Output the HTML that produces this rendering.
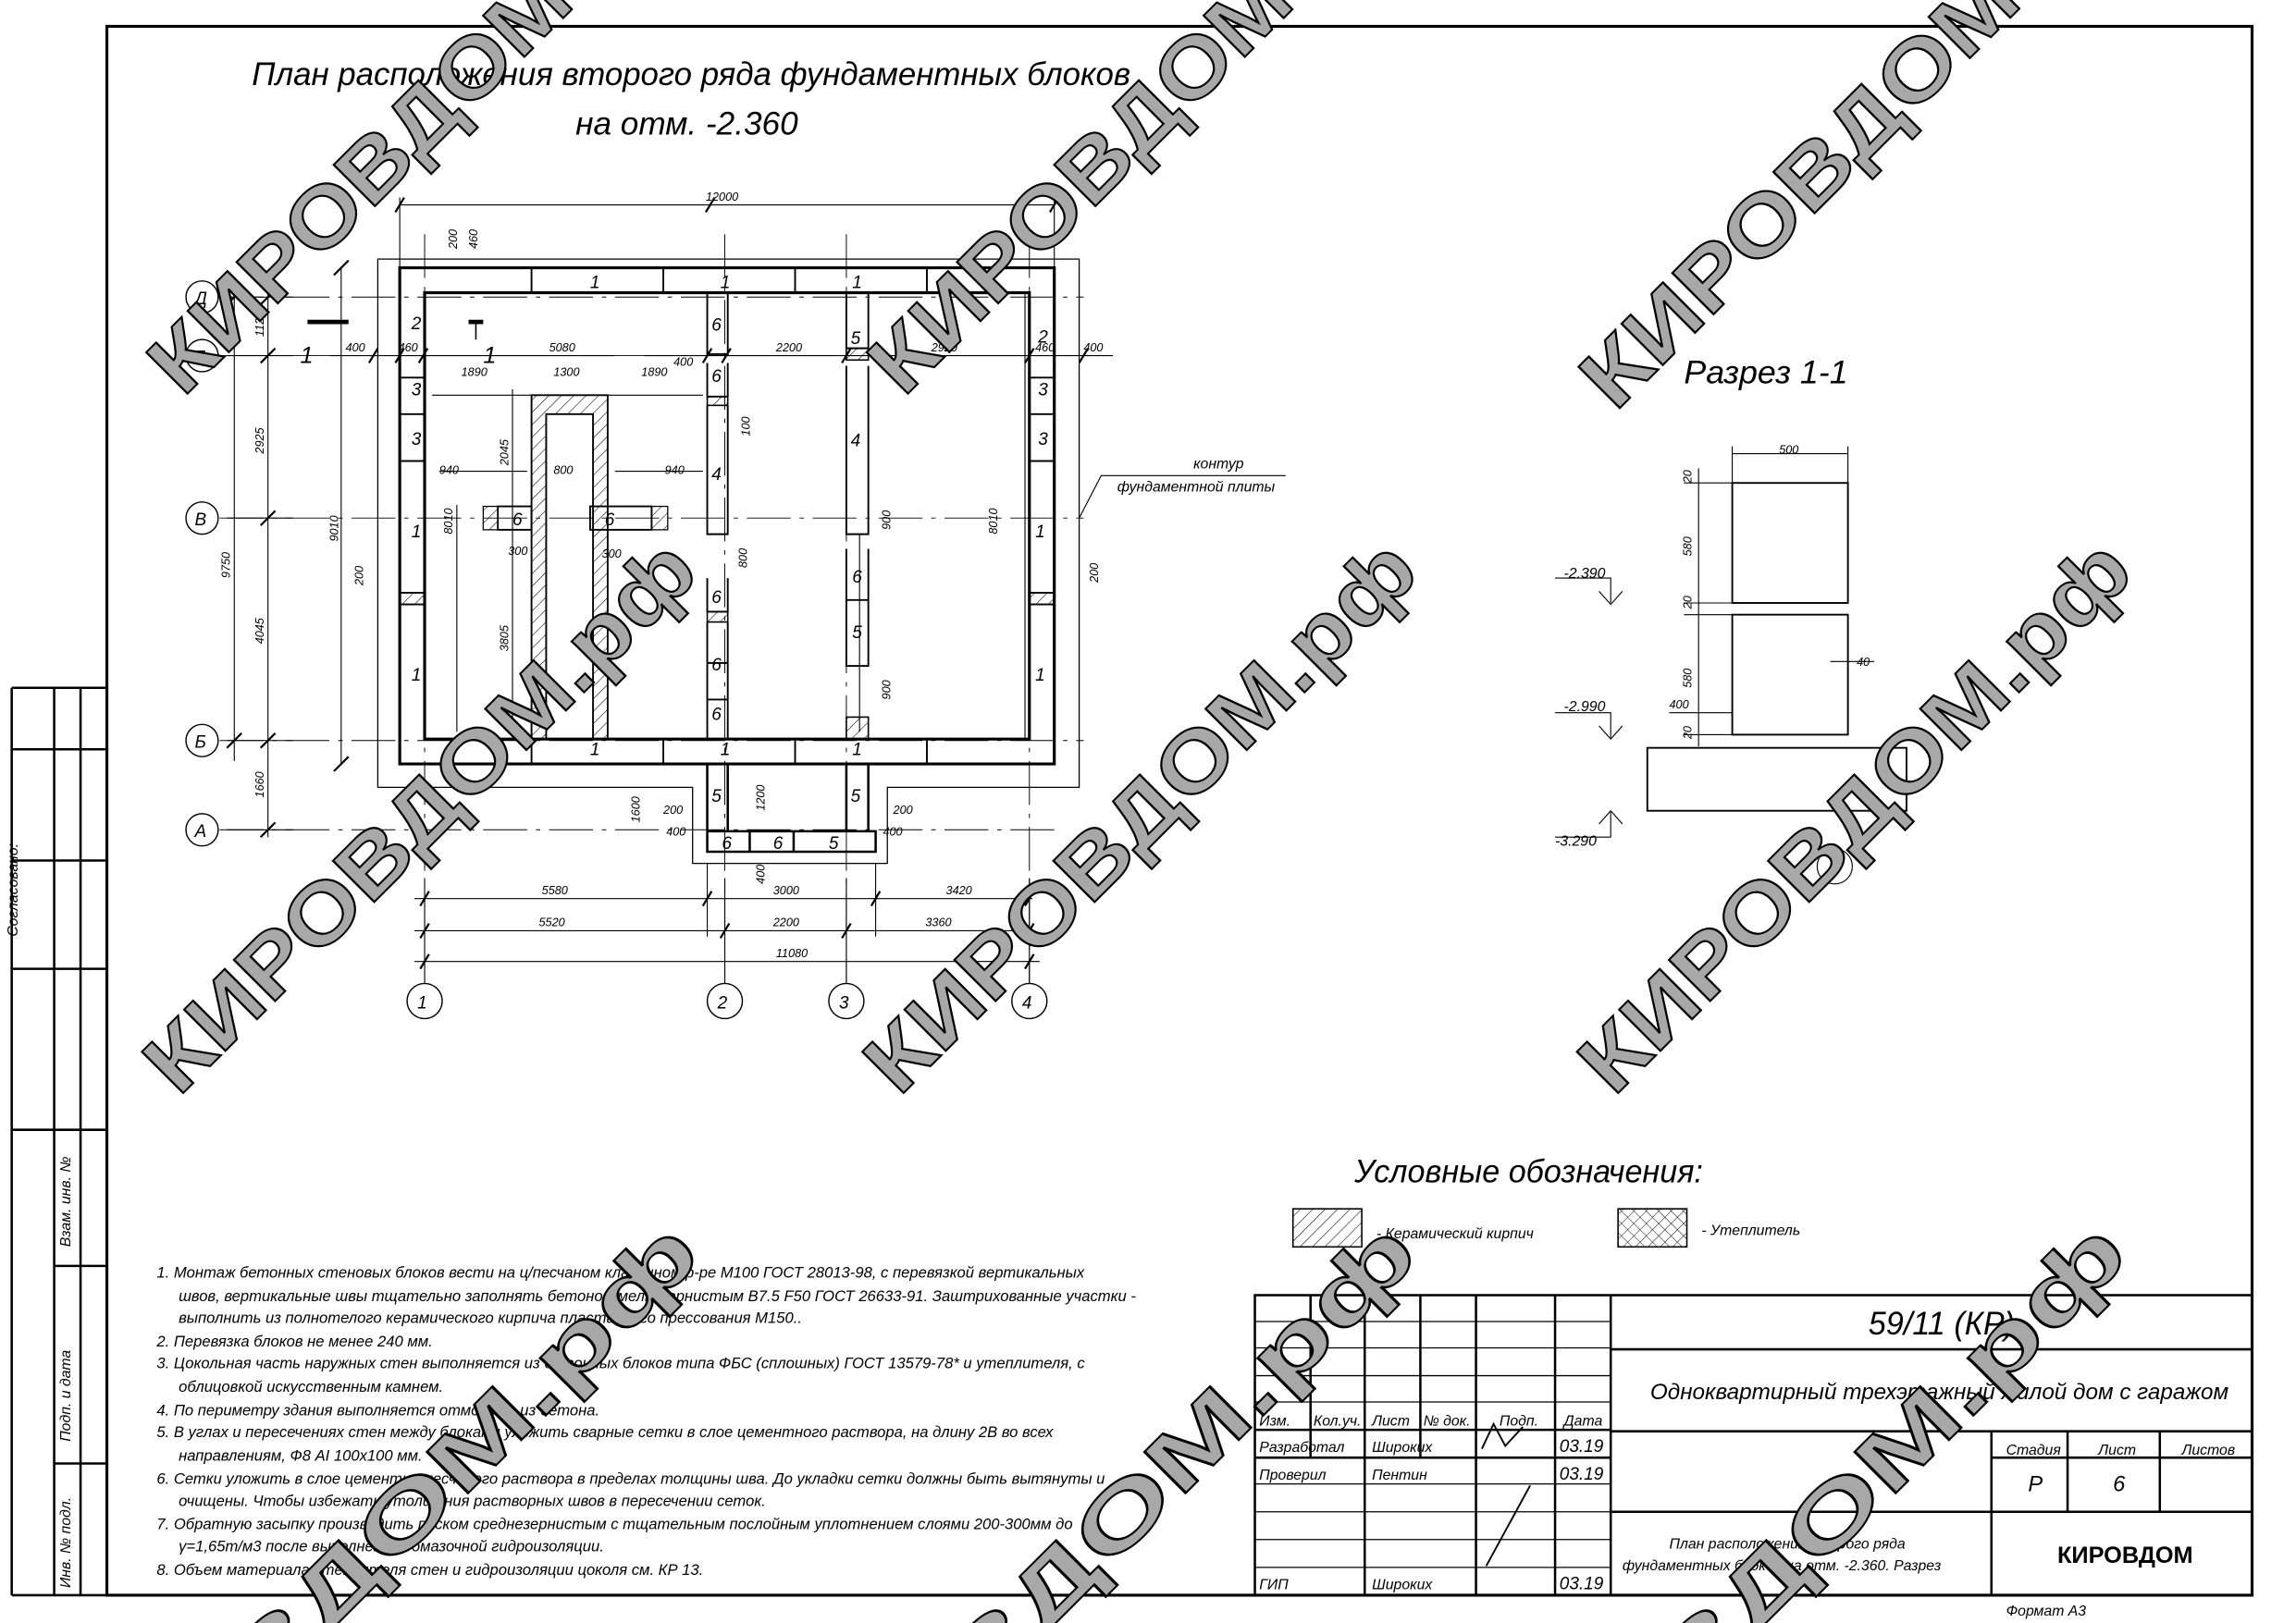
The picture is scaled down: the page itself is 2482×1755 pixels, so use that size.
<!DOCTYPE html>
<html><head><meta charset="utf-8"><style>
html,body{margin:0;padding:0;background:#fff;overflow:hidden;width:2482px;height:1755px}
svg{display:block}
text{font-family:"Liberation Sans",sans-serif;font-style:italic;fill:#000}
.wm{font-family:"Liberation Sans",sans-serif;font-style:normal;font-weight:bold;fill:#a8a8a8;stroke:#000;stroke-width:1.3}
</style></head><body>
<svg width="2482" height="1755" viewBox="0 0 1568 1109" preserveAspectRatio="none" xmlns="http://www.w3.org/2000/svg">
<defs>
<pattern id="h" width="6" height="6" patternUnits="userSpaceOnUse" patternTransform="rotate(45)"><line x1="0" y1="0" x2="0" y2="6" stroke="#000" stroke-width="0.7"/></pattern>
<pattern id="x" width="6" height="6" patternUnits="userSpaceOnUse" patternTransform="rotate(45)"><line x1="0" y1="0" x2="0" y2="6" stroke="#000" stroke-width="0.6"/><line x1="0" y1="0" x2="6" y2="0" stroke="#000" stroke-width="0.6"/></pattern>
</defs>
<g fill="none" stroke="#000">
<rect x="73" y="18" width="1465" height="1072" stroke-width="2"/>
<path d="M8 470H73M8 1090H73M8 470V1090M37 470V1090M55 470V1090M8 512H73M8 588H73M8 662H73M8 772H73M37 865H73M37 1000H73" stroke-width="1.6"/>
<path d="M258 177H737V538H606V590H473V538H258Z" stroke-width="0.8"/>
<path d="M273 183H720V522H273Z M290 200H703V505H290Z" stroke-width="2"/>
<path d="M363 183V200M453 183V200M543 183V200M633 183V200M363 505V522M453 505V522M543 505V522M633 505V522" stroke-width="1.2"/>
<path d="M273 258H290M273 283H290M273 315H290M273 405H290M273 413H290M703 258H720M703 283H720M703 315H720M703 405H720M703 413H720" stroke-width="1.2"/>
<rect x="273" y="405" width="17" height="8" fill="url(#h)" stroke-width="1"/>
<rect x="703" y="405" width="17" height="8" fill="url(#h)" stroke-width="1"/>
<path d="M483 200V242H497V200M483 248V271H497V248M483 277V365H497V277M483 395V418H497V395M483 425V505H497V425M483 453H497M483 478H497" stroke-width="1.2"/>
<rect x="483" y="418" width="14" height="7" fill="url(#h)" stroke-width="1"/>
<rect x="483" y="271" width="14" height="6" fill="url(#h)" stroke-width="1"/>
<path d="M578 200V238H593V200M578 250V365H593V250M578 375V410H593V375M578 410V455H593V410" stroke-width="1.2"/>
<rect x="578" y="490" width="15" height="15" fill="url(#h)" stroke-width="1"/>
<rect x="578" y="238" width="15" height="8" fill="url(#h)" stroke-width="1"/>
<path d="M363 505V270H415V505H405V283H373V505Z" fill="url(#h)" stroke-width="1.2"/>
<rect x="340" y="346" width="23" height="16" stroke-width="1.2"/>
<rect x="403" y="346" width="42" height="16" stroke-width="1.2"/>
<rect x="330" y="346" width="10" height="16" fill="url(#h)" stroke-width="0.8"/>
<rect x="445" y="346" width="11" height="16" fill="url(#h)" stroke-width="0.8"/>
<path d="M483 522V568M497 522V568M578 522V568M593 522V568M483 568H598V582H483Z M512 568V582M542 568V582" stroke-width="1.6"/>
<g stroke-width="0.6" stroke-dasharray="30 6 3 6">
<path d="M150 203H740M150 243H740M150 354H740M150 506H740M150 567H720M290 160V672M495 160V672M578 160V672M703 160V672"/>
</g>
<g stroke-width="0.9">
<circle cx="138" cy="203" r="11"/><circle cx="138" cy="243" r="11"/><circle cx="138" cy="354" r="11"/><circle cx="138" cy="506" r="11"/><circle cx="138" cy="567" r="11"/>
<circle cx="290" cy="684" r="12"/><circle cx="495" cy="684" r="12"/><circle cx="578" cy="684" r="12"/><circle cx="703" cy="684" r="12"/>
</g>
<g stroke-width="0.7">
<path d="M273 140H720M273 135V183M720 135V183"/>
<path d="M283 614H705M283 636H705M283 657H710M290 600V672M483 590V640M598 590V640M495 600V672M578 600V672M703 600V672"/>
<path d="M183 198V572M160 198V520M233 183V522M155 203H200M155 243H200M155 354H200M155 506H200M155 567H200"/>
<path d="M225 243H420M440 243H760M295 270H480M300 322H360M420 322H480M350 266V505"/>
<path d="M312 345V500M700 200V505M587 365V500"/>
</g>
<g stroke-width="1.4">
<path d="M270 145L276 135M482 145L488 135M717 145L723 135M287 619L293 609M480 619L486 609M595 619L601 609M700 619L706 609M287 641L293 631M492 641L498 631M575 641L581 631M700 641L706 631M287 662L293 652M700 662L706 652"/>
<path d="M178 208L188 198M178 248L188 238M178 359L188 349M178 511L188 501M178 572L188 562M155 208L165 198M155 511L165 501M228 188L238 178M228 527L238 517"/>
<path d="M252 248L258 238M270 248L276 238M286 248L292 238M480 248L486 238M493 248L499 238M575 248L581 238M700 248L706 238M737 248L743 238"/>
</g>
<path d="M210 220H238M320 220H330" stroke-width="3"/>
<path d="M325 220V232" stroke-width="1"/>
<g stroke-width="1.2">
<rect x="1183" y="330" width="79" height="82"/><rect x="1183" y="420" width="79" height="82"/><rect x="1125" y="511" width="177" height="43"/>
</g>
<g stroke-width="0.7">
<path d="M1183 310H1262M1183 305V330M1262 305V330M1160 320V510M1150 330H1183M1150 412H1183M1150 420H1183M1150 502H1183M1140 487H1183M1150 511H1183M1250 452H1280"/>
<path d="M1062 395H1100V412M1062 487H1100V504M1062 572H1100V555M1092 404L1100 413L1108 404M1092 496L1100 505L1108 496M1092 563L1100 554L1108 563"/>
<circle cx="1253" cy="592" r="12"/>
</g>
<rect x="883" y="826" width="47" height="26" fill="url(#h)" stroke-width="1"/>
<rect x="1105" y="826" width="47" height="26" fill="url(#x)" stroke-width="1"/>
<path d="M737 354L752 325H878" stroke-width="0.7"/>
<g stroke-width="1.6">
<rect x="857" y="885" width="681" height="205"/>
<path d="M1100 885V1090M1100 922H1538M1100 978H1538M1360 978V1090M1100 1033H1538M1360 996H1538M1412 978V1033M1475 978V1033"/>
<path d="M857 977H1100M857 996H1100M895 885V996M932 885V996M970 885V996M1008 885V1090M1062 885V1090M932 996V1090"/>
</g>
<g stroke-width="0.8">
<path d="M857 903H1100M857 921H1100M857 940H1100M857 958H1100M857 1014H1100M857 1033H1100M857 1052H1100M857 1071H1100"/>
<path d="M1015 1070L1045 1015M1012 990L1020 973L1028 988L1040 975" stroke-width="1.2"/>
</g>
</g>
<g font-size="22">
<text x="172" y="58" textLength="600" lengthAdjust="spacingAndGlyphs">План расположения второго ряда фундаментных блоков</text>
<text x="393" y="92" textLength="152" lengthAdjust="spacingAndGlyphs">на отм. -2.360</text>
<text x="1150" y="262" textLength="112" lengthAdjust="spacingAndGlyphs">Разрез 1-1</text>
<text x="925" y="808" textLength="238" lengthAdjust="spacingAndGlyphs">Условные обозначения:</text>
<text x="1276" y="912" textLength="100" lengthAdjust="spacingAndGlyphs">59/11 (КР)</text>
</g>
<g font-size="15">
<text x="1127" y="956" textLength="395" lengthAdjust="spacingAndGlyphs">Одноквартирный трехэтажный жилой дом с гаражом</text>
<text x="1385" y="1019">Р</text><text x="1443" y="1019">6</text>
</g>
<text x="1405" y="1068" font-size="16" style="font-style:normal;font-weight:bold">КИРОВДОМ</text>
<g font-size="10">
<text x="1370" y="994">Стадия</text><text x="1433" y="994">Лист</text><text x="1490" y="994">Листов</text>
<text x="1140" y="1058">План расположения второго ряда</text>
<text x="1108" y="1073">фундаментных блоков на отм. -2.360. Разрез</text>
<text x="1370" y="1104">Формат А3</text>
<text x="860" y="974">Изм.</text><text x="897" y="974">Кол.уч.</text><text x="937" y="974">Лист</text><text x="972" y="974">№ док.</text><text x="1024" y="974">Подп.</text><text x="1068" y="974">Дата</text>
<text x="860" y="992">Разработал</text><text x="937" y="992">Широких</text><text x="1065" y="992" font-size="12">03.19</text>
<text x="860" y="1011">Проверил</text><text x="937" y="1011">Пентин</text><text x="1065" y="1011" font-size="12">03.19</text>
<text x="860" y="1086">ГИП</text><text x="937" y="1086">Широких</text><text x="1065" y="1086" font-size="12">03.19</text>
<text x="940" y="846">- Керамический кирпич</text><text x="1162" y="844">- Утеплитель</text>
<text x="815" y="320">контур</text><text x="763" y="336">фундаментной плиты</text>
<text x="1068" y="395">-2.390</text><text x="1068" y="486">-2.990</text><text x="1062" y="578">-3.290</text>
<text x="12" y="640" transform="rotate(-90 12 640)">Согласовано:</text>
<text x="48" y="852" transform="rotate(-90 48 852)">Взам. инв. №</text>
<text x="48" y="985" transform="rotate(-90 48 985)">Подп. и дата</text>
<text x="48" y="1085" transform="rotate(-90 48 1085)">Инв. № подл.</text>
</g>
<g font-size="10.5">
<text x="107" y="873">1.  Монтаж бетонных стеновых блоков вести на ц/песчаном кладочном р-ре М100 ГОСТ 28013-98, с перевязкой вертикальных</text>
<text x="122" y="889">швов, вертикальные швы тщательно заполнять бетоном мелкозернистым В7.5 F50 ГОСТ 26633-91. Заштрихованные участки -</text>
<text x="122" y="904">выполнить из полнотелого керамического кирпича пластичного прессования М150..</text>
<text x="107" y="920">2.  Перевязка блоков не менее 240 мм.</text>
<text x="107" y="935">3.  Цокольная часть наружных стен выполняется из бетонных блоков типа ФБС (сплошных) ГОСТ 13579-78* и утеплителя, с</text>
<text x="122" y="951">облицовкой искусственным камнем.</text>
<text x="107" y="967">4.  По периметру здания выполняется отмостка из бетона.</text>
<text x="107" y="982">5.  В углах и пересечениях стен между блоками уложить сварные сетки в слое цементного раствора, на длину 2В во всех</text>
<text x="122" y="998">направлениям, Ф8 AI 100х100 мм.</text>
<text x="107" y="1014">6.  Сетки уложить в слое цементно-песчаного раствора в пределах толщины шва. До укладки сетки должны быть вытянуты и</text>
<text x="122" y="1029">очищены. Чтобы избежать утолщения растворных швов в пересечении сеток.</text>
<text x="107" y="1045">7.  Обратную засыпку производить песком среднезернистым с тщательным послойным уплотнением слоями 200-300мм до</text>
<text x="122" y="1060">γ=1,65т/м3 после выполнения обмазочной гидроизоляции.</text>
<text x="107" y="1076">8.  Объем материала утеплителя стен и гидроизоляции цоколя см. КР 13.</text>
</g>
<g font-size="12" style="font-style:normal">
<text x="133" y="208">Д</text><text x="133" y="248">Г</text><text x="133" y="359">В</text><text x="133" y="511">Б</text><text x="133" y="572">А</text>
<text x="285" y="689">1</text><text x="490" y="689">2</text><text x="573" y="689">3</text><text x="698" y="689">4</text>
<text x="205" y="248" font-size="16">1</text><text x="330" y="248" font-size="16">1</text>
</g>
<g font-size="12">
<text x="403" y="197">1</text><text x="492" y="197">1</text><text x="582" y="197">1</text>
<text x="403" y="516">1</text><text x="492" y="516">1</text><text x="582" y="516">1</text>
<text x="281" y="225">2</text><text x="281" y="270">3</text><text x="281" y="304">3</text><text x="281" y="367">1</text><text x="281" y="465">1</text>
<text x="709" y="234">2</text><text x="709" y="270">3</text><text x="709" y="304">3</text><text x="707" y="367">1</text><text x="707" y="465">1</text>
<text x="486" y="226">6</text><text x="486" y="261">6</text><text x="486" y="328">4</text><text x="486" y="412">6</text><text x="486" y="458">6</text><text x="486" y="492">6</text>
<text x="581" y="235">5</text><text x="581" y="305">4</text><text x="582" y="398">6</text><text x="582" y="436">5</text>
<text x="350" y="359">6</text><text x="413" y="359">6</text>
<text x="486" y="548">5</text><text x="581" y="548">5</text><text x="493" y="580">6</text><text x="528" y="580">6</text><text x="566" y="580">5</text>
</g>
<g font-size="8">
<text x="482" y="137">12000</text><text x="375" y="240">5080</text><text x="530" y="240">2200</text><text x="636" y="240">2920</text>
<text x="236" y="240">400</text><text x="740" y="240">400</text><text x="272" y="240">460</text><text x="707" y="240">460</text>
<text x="315" y="257">1890</text><text x="378" y="257">1300</text><text x="438" y="257">1890</text><text x="460" y="250">400</text>
<text x="300" y="324">940</text><text x="454" y="324">940</text><text x="378" y="324">800</text>
<text x="370" y="611">5580</text><text x="528" y="611">3000</text><text x="646" y="611">3420</text>
<text x="368" y="633">5520</text><text x="528" y="633">2200</text><text x="632" y="633">3360</text><text x="530" y="654">11080</text>
<text x="453" y="556">200</text><text x="455" y="571">400</text><text x="610" y="556">200</text><text x="603" y="571">400</text>
<text x="347" y="379">300</text><text x="411" y="381">300</text>
<text x="1215" y="310">500</text><text x="1140" y="484">400</text><text x="1268" y="455">40</text>
</g>
<g font-size="8">
<text transform="translate(180,230) rotate(-90)">1120</text><text transform="translate(180,310) rotate(-90)">2925</text>
<text transform="translate(180,440) rotate(-90)">4045</text><text transform="translate(180,545) rotate(-90)">1660</text>
<text transform="translate(157,395) rotate(-90)">9750</text><text transform="translate(231,370) rotate(-90)">9010</text>
<text transform="translate(309,365) rotate(-90)">8010</text><text transform="translate(681,365) rotate(-90)">8010</text>
<text transform="translate(347,318) rotate(-90)">2045</text><text transform="translate(347,445) rotate(-90)">3805</text>
<text transform="translate(248,400) rotate(-90)">200</text><text transform="translate(750,398) rotate(-90)">200</text>
<text transform="translate(312,170) rotate(-90)">200</text><text transform="translate(326,170) rotate(-90)">460</text>
<text transform="translate(512,298) rotate(-90)">100</text><text transform="translate(510,388) rotate(-90)">800</text>
<text transform="translate(608,362) rotate(-90)">900</text><text transform="translate(608,478) rotate(-90)">900</text>
<text transform="translate(437,562) rotate(-90)">1600</text><text transform="translate(522,554) rotate(-90)">1200</text>
<text transform="translate(522,604) rotate(-90)">400</text><text transform="translate(1155,330) rotate(-90)">20</text>
<text transform="translate(1155,380) rotate(-90)">580</text><text transform="translate(1155,416) rotate(-90)">20</text>
<text transform="translate(1155,470) rotate(-90)">580</text><text transform="translate(1155,505) rotate(-90)">20</text>
</g>
<g font-size="58">
<text class="wm" transform="translate(125,272) rotate(-45)" textLength="380" lengthAdjust="spacingAndGlyphs">КИРОВДОМ</text>
<text class="wm" transform="translate(617,272) rotate(-45)" textLength="380" lengthAdjust="spacingAndGlyphs">КИРОВДОМ</text>
<text class="wm" transform="translate(1103,282) rotate(-45)" textLength="395" lengthAdjust="spacingAndGlyphs">КИРОВДОМ</text>
<text class="wm" transform="translate(122,750) rotate(-45)" textLength="505" lengthAdjust="spacingAndGlyphs">КИРОВДОМ.рф</text>
<text class="wm" transform="translate(614,750) rotate(-45)" textLength="505" lengthAdjust="spacingAndGlyphs">КИРОВДОМ.рф</text>
<text class="wm" transform="translate(1102,750) rotate(-45)" textLength="505" lengthAdjust="spacingAndGlyphs">КИРОВДОМ.рф</text>
<text class="wm" transform="translate(0,1340) rotate(-45)" textLength="680" lengthAdjust="spacingAndGlyphs">КИРОВДОМ.рф</text>
<text class="wm" transform="translate(490,1340) rotate(-45)" textLength="680" lengthAdjust="spacingAndGlyphs">КИРОВДОМ.рф</text>
<text class="wm" transform="translate(975,1340) rotate(-45)" textLength="680" lengthAdjust="spacingAndGlyphs">КИРОВДОМ.рф</text>
</g>
</svg>
</body></html>
